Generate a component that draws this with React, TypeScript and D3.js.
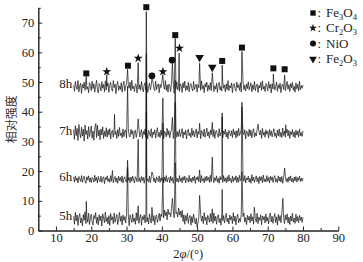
import React, { useEffect, useRef } from "react";
import * as d3 from "d3";

const W = 363,
  H = 262;

// scan grid (2θ, degrees) shared by all samples
const gridStart = 15;
const gridStep = 0.25;

// stacked patterns: label and vertical shift
const sampleLabels = ["5h", "6h", "7h", "8h"];
const sampleOffsets = [3.8, 17.2, 32.6, 48.3];

// background noise (one value per grid step)
const noise5h = [
  1.0, -1.7, 2.3, -0.6, 1.4, -2.1, 0.8, 1.9, -1.3, 0.3, -2.2, 1.6, -0.4, 2.5, -1.5, 0.9, -1.0, 2.0, -1.8, 0.5,
  1.7, -0.9, -2.0, 1.3, 0.2, 2.2, -1.4, 0.7, -1.9, 1.5, -0.5, 1.1, -2.3, 1.8, 0.4, -1.2, 2.4, -0.8, 0.6, -1.6,
  1.2, -2.1, 1.9, -0.3, 0.8, -1.5, 2.1, -1.0, 0.5, 1.6, -1.8, 0.2, 2.3, -0.7, 1.0, -1.9, 1.4, -0.4, 0.9, -1.3,
  2.0, -0.6, 1.1, -2.2, 1.5, 0.3, -1.1, 1.8, -0.8, 0.4, -1.7, 2.2, -0.5, 1.3, -1.4, 0.7, 1.6, -2.0, 0.9, -0.2,
  1.5, -1.2, 2.1, -0.9, 0.6, -1.6, 1.8, 0.1, -1.3, 2.3, -0.7, 1.2, -1.9, 0.8, 1.4, -1.1, 0.3, 2.0, -0.6, 1.7,
  0.9, 2.8, 0.4, 3.1, 1.2, 2.5, -0.2, 3.4, 1.6, 2.2, 0.8, 3.6, 1.1, 2.9, 0.5, 3.3, 1.9, 2.4, 0.7, 3.8,
  1.4, 2.7, 0.6, 3.0, -0.8, 1.5, -1.7, 1.2, -0.5, 2.0, -1.4, 0.6, 1.3, -2.0, 0.9, -1.1, 1.7, -0.3, -1.6, 0.4,
  -2.6, -1.2, 0.8, -1.8, 1.6, -0.7, 1.1, -1.5, 2.2, -0.4, 0.7, -1.9, 1.3, 0.2, -1.0, 1.9, -0.8, 0.5, -1.4, 2.1,
  -0.6, 1.0, -1.7, 0.8, 1.5, -1.1, 0.3, -2.0, 1.8, -0.5, 1.2, -1.3, 0.6, 2.0, -0.9, 0.4, -1.6, 1.4, -0.2, 0.9,
  -1.5, 2.2, -0.7, 1.1, -1.9, 0.6, 1.7, -1.2, 0.2, -0.8, 1.6, -1.4, 0.9, 2.1, -1.0, 0.5, -1.8, 1.3, -0.3, 1.0,
  -1.2, 1.9, -0.6, 0.8, -1.7, 1.4, 0.3, -1.0, 2.0, -1.5, 0.7, -0.4, 1.5, -1.9, 1.1, -0.2, 0.9, -1.3, 1.8, -0.7,
  0.6, -1.6, 1.3, 2.1, -0.9, 1.0, -1.4, 0.4, 1.9, -1.1, 0.8, -2.0, 1.6, -0.5, 1.2, -1.2, 2.3, -0.8, 0.5, -1.5,
  1.4, -0.3, 1.8, -1.3, 0.7, -1.8, 1.1, -0.6, 2.0, -1.0, 0.4, -1.4, 1.7, -0.7, 0.9, -1.2, 1.3, -0.4, 0.8, -1.1,
  0.6,
];
const noise6h = [
  0.8, -0.9, 1.2, -0.4, 0.5, -1.2, 1.0, 0.2, -0.7, 1.3, -1.0, 0.4, 1.1, -0.6, -1.3, 0.9, -0.2, 1.2, -0.8, 0.5,
  -1.1, 0.7, 0.3, -0.9, 1.4, -0.5, 0.6, -1.2, 1.0, -0.3, -0.8, 1.1, -1.0, 0.4, 0.9, -1.4, 0.6, -0.1, 1.2, -0.7,
  0.3, -1.0, 1.3, -0.6, 0.8, -1.1, 0.2, 1.0, -0.9, 0.5, -1.3, 1.1, -0.4, 0.7, -0.8, 1.2, -1.2, 0.4, 0.9, -0.5,
  -1.0, 1.4, -0.3, 0.6, -1.1, 0.8, -0.6, 1.1, -0.2, -1.2, 0.9, 0.3, -0.8, 1.3, -0.7, 0.5, -1.0, 1.0, -0.4, 0.7,
  -1.3, 0.6, 1.2, -0.5, 0.2, -0.9, 1.1, -1.1, 0.7, -0.3, 1.4, -0.8, 0.4, -1.2, 0.9, 0.1, -0.7, 1.2, -1.0, 0.5,
  -0.4, 1.0, -1.2, 0.8, -0.6, 1.3, -0.9, 0.3, 0.7, -1.1, 1.1, -0.5, 0.6, -1.3, 0.9, -0.2, 1.2, -0.8, 0.4, -1.0,
  1.3, -0.6, 0.5, -1.1, 0.9, -0.3, 1.1, -1.2, 0.6, 0.2, -0.9, 1.4, -0.7, 0.4, -1.0, 0.8, -0.4, 1.2, -1.3, 0.7,
  -0.2, 1.0, -0.8, 0.5, -1.1, 1.3, -0.5, 0.3, -1.2, 0.9, -0.6, 1.1, -0.3, 0.7, -1.0, 1.4, -0.8, 0.2, 0.9, -1.1,
  0.6, -0.4, 1.2, -0.9, 0.4, -1.3, 1.0, -0.2, 0.8, -1.0, 1.3, -0.6, 0.5, -1.1, 0.9, -0.7, 1.5, -0.5, 0.3, -1.2,
  1.1, -0.8, 0.6, -0.3, 1.2, -1.1, 0.7, -0.9, 1.4, -0.4, 0.2, -1.0, 1.0, -0.6, 1.3, -1.2, 0.5, -0.2, 1.1, -0.9,
  0.4, -1.3, 1.6, -0.5, 0.8, -1.0, 0.3, 1.2, -0.8, 0.6, -1.4, 1.0, -0.4, 0.9, -1.1, 1.5, -0.7, 0.2, -0.9, 1.3,
  -0.6, 0.7, -1.2, 1.1, -0.3, 0.9, -1.0, 0.5, 1.3, -0.8, 0.2, -1.1, 1.2, -0.5, 0.8, -0.9, 1.0, -1.3, 0.6, -0.2,
  1.1, -0.7, 0.4, -1.0, 0.9, -0.4, 1.2, -0.8, 0.3, -1.1, 0.8, -0.5, 1.0, -0.9, 0.6, -0.3, 1.1, -0.7, 0.5, -0.6,
  0.4,
];
const noise7h = [
  1.4, -1.9, 2.7, -0.6, 1.8, -2.3, 3.1, 0.2, -1.4, 2.2, -0.8, 1.5, -2.5, 2.9, -0.3, 1.1, -1.8, 2.4, -1.0, 0.6,
  2.6, -1.5, 0.9, -2.2, 1.9, 0.3, -1.3, 2.8, -0.7, 1.2, -2.0, 1.6, -0.4, 2.3, -1.6, 0.8, -0.9, 2.0, -1.2, 1.3,
  -0.5, 1.7, -1.8, 0.6, 1.1, -1.2, 1.9, -0.3, 0.7, -1.6, 1.4, -0.9, 2.1, -0.6, 0.2, -1.4, 1.6, -1.0, 0.9, 1.3,
  -1.5, 0.4, 1.8, -0.8, -1.1, 1.5, -0.2, 1.0, -1.7, 0.6, 1.2, -1.3, 0.3, -0.7, 1.9, -1.1, 0.5, 1.4, -1.6, 0.8,
  -0.4, 1.6, -1.2, 0.9, -1.8, 1.1, 0.2, -0.9, 1.7, -1.4, 0.6, -0.3, 1.3, -1.5, 0.7, 2.0, -1.0, 0.4, -1.3, 1.2,
  -0.6, 1.5, -1.7, 0.8, 0.3, -1.1, 1.8, -0.5, 1.0, -1.4, 0.5, 1.3, -0.8, -1.6, 1.1, -0.2, 1.6, -1.2, 0.7, -0.9,
  1.4, -1.0, 0.2, 1.7, -1.5, 0.6, -0.4, 1.2, -1.8, 0.9, 1.5, -0.7, 0.3, -1.3, 1.8, -0.6, 1.0, -1.1, 0.4, 1.6,
  -1.4, 0.8, -0.2, 1.3, -1.7, 1.1, 0.5, -0.9, 1.6, -1.2, 0.2, 1.9, -0.8, 0.6, -1.5, 1.2, -0.3, 0.9, -1.0, 1.4,
  -1.6, 0.7, 1.1, -0.5, -1.2, 1.7, -0.8, 0.4, 1.3, -1.4, 0.9, -0.2, 1.5, -1.1, 0.6, -1.7, 1.2, 0.3, -0.7, 1.0,
  -1.3, 1.6, -0.4, 0.8, -1.5, 1.1, -0.9, 1.8, -0.6, 0.2, 1.4, -1.2, 0.7, -0.3, 1.3, -1.8, 0.9, 0.4, -1.0, 1.5,
  -0.7, 1.2, -1.4, 0.5, 1.7, -1.1, 0.3, -0.8, 1.5, -1.3, 0.9, -0.4, 1.1, -1.6, 1.8, -0.5, 0.6, -1.2, 1.3, -0.2,
  0.8, -1.5, 1.4, -0.6, 1.0, -1.1, 0.4, 1.7, -0.9, 0.2, -1.4, 1.2, -0.7, 1.6, -1.0, 0.5, -1.3, 1.9, -0.6, 0.9,
  -1.2, 0.3, 1.5, -0.8, 1.1, -1.6, 0.7, -0.3, 1.4, -1.0, 0.6, -1.4, 1.2, -0.5, 0.9, -1.1, 1.6, -0.7, 0.4, -0.9,
  1.0,
];
const noise8h = [
  0.6, -1.4, 1.9, 0.2, -0.8, 2.2, -1.6, 0.4, 1.3, -2.1, 0.9, -0.3, 1.7, -1.1, 2.4, -0.7, 0.1, -1.9, 1.5, 0.6,
  -1.2, 2.0, -0.5, 1.1, -1.7, 0.3, 2.3, -0.9, -2.0, 1.2, 0.5, -1.3, 1.8, -0.4, 0.9, -1.6, 2.1, -1.0, 0.2, 1.4,
  -1.8, 0.7, 1.6, -0.6, -1.4, 2.2, -0.2, 1.0, -2.2, 0.8, 1.9, -1.1, 0.4, -0.8, 1.5, -1.7, 0.6, 2.0, -1.3, 0.1,
  1.2, -1.9, 0.9, -0.4, 1.7, -1.2, 2.3, -0.6, 0.3, -1.5, 1.1, 0.5, -2.0, 1.4, -0.7, 0.8, -1.1, 1.9, -0.3, -1.6,
  0.7, 1.5, -1.0, 2.1, -1.8, 0.2, 1.3, -0.9, 0.6, -1.4, 1.8, -0.5, -1.2, 2.0, -0.8, 0.4, 1.1, -1.9, 0.9, -0.2,
  1.6, -1.3, 0.5, -0.7, 2.2, -1.1, 0.8, -1.7, 1.0, 0.3, -1.5, 1.7, -0.4, 0.9, -2.1, 1.3, -0.6, 1.8, -1.0, 0.2,
  -1.4, 1.1, 0.6, -1.8, 1.5, -0.3, 2.0, -1.2, 0.4, -0.9, 1.6, -1.6, 0.7, 1.2, -0.5, -1.3, 1.9, -0.8, 0.3, 1.0,
  -1.7, 0.8, -0.2, 1.4, -1.1, 2.1, -0.6, 0.5, -1.9, 1.2, 0.0, 1.7, -1.4, 0.6, -0.8, 1.5, -1.2, 0.9, 2.0, -1.5,
  0.4, -0.7, 1.3, -1.8, 0.8, 1.6, -1.0, 0.2, -1.3, 1.9, -0.4, 0.7, -1.6, 1.1, -0.9, 2.2, -1.2, 0.5, -0.3, 1.4,
  -1.9, 0.9, 1.2, -0.6, -1.4, 1.7, -0.2, 0.8, -1.1, 1.5, -1.7, 0.3, 2.0, -0.9, 0.6, -1.3, 1.1, -0.5, 1.8, -1.0,
  0.2, 1.4, -1.6, 0.7, -0.8, 1.9, -1.2, 0.4, 1.0, -1.8, 0.6, -0.3, 1.6, -1.1, 2.1, -0.7, 0.3, -1.5, 1.2, 0.5,
  -1.3, 1.8, -0.4, 0.9, -2.0, 1.1, -0.6, 1.5, -1.0, 0.2, 1.7, -1.4, 0.8, -0.5, 1.3, -1.9, 0.6, 1.0, -0.8, 1.6,
  -1.2, 0.4, 1.9, -0.7, 0.8, -1.5, 1.2, -0.2, 1.6, -1.1, 0.3, -1.7, 1.4, -0.6, 0.9, -1.3, 2.0, -0.9, 0.5, -0.4,
  0.7,
];

// diffraction peaks [2θ, intensity above the pattern's baseline]
const peaks5h = [
  [18.6, 6], [30.3, 17.5], [33.3, 4.5], [35.6, 36], [37.2, 4], [40.3, 14], [43.0, 7], [43.8, 19],
  [50.7, 8], [54.3, 3.5], [57.1, 10], [62.7, 16], [66.2, 4], [74.3, 7],
];
const peaks6h = [
  [26.0, 3], [30.3, 6.5], [33.3, 13.5], [35.6, 31], [37.2, 2.5], [40.3, 19], [43.8, 26], [50.7, 3.2],
  [54.3, 7.5], [57.1, 21], [62.7, 26], [74.8, 3.8],
];
const peaks7h = [
  [21.3, 3.4], [26.6, 6.5], [30.3, 16], [33.3, 5], [35.6, 27], [40.3, 12], [43.0, 5.5], [43.8, 18],
  [50.7, 3.5], [54.3, 3.8], [57.1, 7], [62.7, 9], [67.3, 3.2], [75.1, 3],
];
const peaks8h = [
  [18.6, 3.5], [24.4, 4.2], [30.3, 6], [33.3, 8.2], [35.6, 25.4], [37.2, 2.8], [40.3, 4.2], [43.0, 8.2],
  [43.8, 16.4], [44.9, 11.4], [50.7, 8], [54.3, 4.8], [57.1, 7.4], [62.7, 12], [71.6, 4.4], [74.8, 4],
];

// phase markers above the 8h pattern [2θ, intensity, phase]
const phaseMarks = [
  [18.6, 52.9, "Fe3O4"], [24.4, 53.5, "Cr2O3"], [30.4, 55.5, "Fe3O4"], [33.3, 58.0, "Cr2O3"],
  [35.6, 75.2, "Fe3O4"], [37.2, 52.1, "NiO"], [40.3, 53.5, "Cr2O3"], [42.9, 57.4, "NiO"],
  [43.8, 65.8, "Fe3O4"], [45.0, 61.4, "Cr2O3"], [50.7, 58.3, "Fe2O3"], [54.3, 55.0, "Fe2O3"],
  [57.1, 57.1, "Fe3O4"], [62.7, 61.6, "Fe3O4"], [71.6, 54.6, "Fe3O4"], [74.8, 54.3, "Fe3O4"],
];

const phases = ["Fe3O4", "Cr2O3", "NiO", "Fe2O3"];
const phaseLabels = ["Fe_3O_4", "Cr_2O_3", "NiO", "Fe_2O_3"];

const xTicks = [10, 20, 30, 40, 50, 60, 70, 80, 90];
const xMinor = [15, 25, 35, 45, 55, 65, 75, 85];
const yTicks = [0, 10, 20, 30, 40, 50, 60, 70];
const yMinor = [5, 15, 25, 35, 45, 55, 65, 75];

const serif = "'Liberation Serif', 'Times New Roman', serif";

const App = () => {
  const svgRef = useRef(null);

  useEffect(() => {
    const svg = d3.select(svgRef.current);
    svg.selectAll("*").remove();

    const x = d3.scaleLinear().domain([5, 90]).range([38.3, 338.3]);
    const y = d3.scaleLinear().domain([0, 75]).range([230.5, 7.8]);

    // symbol paths
    const symbolFor = (phase, scale = 1) => {
      const s = d3.symbol();
      if (phase === "Fe3O4") return s.type(d3.symbolSquare).size(36 * scale)();
      if (phase === "Cr2O3") return s.type(d3.symbolStar).size(26 * scale)();
      if (phase === "NiO") return s.type(d3.symbolCircle).size(36 * scale)();
      return s.type(d3.symbolTriangle).size(32 * scale)();
    };

    // patterns
    const noises = [noise5h, noise6h, noise7h, noise8h];
    const peaks = [peaks5h, peaks6h, peaks7h, peaks8h];
    const line = d3
      .line()
      .x((d) => x(d[0]))
      .y((d) => y(d[1]));

    const gTraces = svg.append("g");
    noises.forEach((noise, k) => {
      const pk = peaks[k];
      const pts = noise
        .map((v, i) => [gridStart + i * gridStep, v])
        .filter((p) => !pk.some((q) => Math.abs(q[0] - p[0]) < 0.08));
      pk.forEach((q) => pts.push([q[0], q[1]]));
      pts.sort((a, b) => a[0] - b[0]);
      const off = sampleOffsets[k];
      gTraces
        .append("path")
        .attr("d", line(pts.map((p) => [p[0], p[1] + off])))
        .attr("fill", "none")
        .attr("stroke", "#111")
        .attr("stroke-width", 0.7);

      gTraces
        .append("text")
        .attr("x", x(14.6))
        .attr("y", y(off + 0.6))
        .attr("text-anchor", "end")
        .attr("dominant-baseline", "middle")
        .attr("font-family", serif)
        .attr("font-size", 13)
        .attr("fill", "#222")
        .text(sampleLabels[k]);
    });

    // phase markers
    svg
      .append("g")
      .selectAll("path")
      .data(phaseMarks)
      .enter()
      .append("path")
      .attr("d", (d) => symbolFor(d[2]))
      .attr("transform", (d) =>
        `translate(${x(d[0])},${y(d[1])})` + (d[2] === "Fe2O3" ? " rotate(180)" : "")
      )
      .attr("fill", "#111");

    // axes
    const axisStyle = (g) => {
      g.selectAll("path.domain").attr("stroke", "#222").attr("stroke-width", 1);
      g.selectAll(".tick line").attr("stroke", "#222");
      g.selectAll(".tick text")
        .attr("font-family", serif)
        .attr("font-size", 12.5)
        .attr("fill", "#222");
    };

    svg
      .append("g")
      .attr("transform", `translate(0,${y(0)})`)
      .call(d3.axisBottom(x).tickValues(xTicks).tickSizeInner(-4).tickSizeOuter(0).tickPadding(3).tickFormat(d3.format("d")))
      .call(axisStyle);
    svg
      .append("g")
      .attr("transform", `translate(0,${y(0)})`)
      .call(d3.axisBottom(x).tickValues(xMinor).tickSizeInner(-2.5).tickSizeOuter(0).tickFormat(() => ""))
      .call(axisStyle);

    svg
      .append("g")
      .attr("transform", `translate(${x(5)},0)`)
      .call(d3.axisLeft(y).tickValues(yTicks).tickSizeInner(-4).tickSizeOuter(0).tickPadding(4).tickFormat(d3.format("d")))
      .call(axisStyle);
    svg
      .append("g")
      .attr("transform", `translate(${x(5)},0)`)
      .call(d3.axisLeft(y).tickValues(yMinor).tickSizeInner(-2.5).tickSizeOuter(0).tickFormat(() => ""))
      .call(axisStyle);

    // axis titles
    svg
      .append("text")
      .attr("transform", `translate(13,${(y(0) + y(75)) / 2}) rotate(-90)`)
      .attr("text-anchor", "middle")
      .attr("dominant-baseline", "middle")
      .attr("font-family", "'Noto Sans CJK SC', sans-serif")
      .attr("font-size", 12)
      .attr("fill", "#333")
      .text("相对强度");

    const xt = svg
      .append("text")
      .attr("x", (x(5) + x(90)) / 2)
      .attr("y", 258)
      .attr("text-anchor", "middle")
      .attr("font-family", serif)
      .attr("font-size", 12.5)
      .attr("fill", "#222");
    xt.append("tspan").text("2");
    xt.append("tspan").attr("font-style", "italic").text("φ");
    xt.append("tspan").text("/(°)");

    // legend
    const legendRows = [13, 28, 43.5, 59];
    const lg = svg.append("g");
    phases.forEach((ph, i) => {
      const ry = legendRows[i];
      lg.append("path")
        .attr("d", symbolFor(ph, 0.8))
        .attr("transform", `translate(313,${ry})` + (ph === "Fe2O3" ? " rotate(180)" : ""))
        .attr("fill", "#111");
      const t = lg
        .append("text")
        .attr("x", 317.5)
        .attr("y", ry + 4)
        .attr("font-family", serif)
        .attr("font-size", 13)
        .attr("fill", "#222");
      t.append("tspan").text(":");
      const parts = phaseLabels[i].split("_");
      t.append("tspan").attr("x", 326).text(parts[0]);
      parts.slice(1).forEach((p) => {
        t.append("tspan").attr("dy", 3).attr("font-size", 8.5).text(p[0]);
        if (p.length > 1) t.append("tspan").attr("dy", -3).text(p.slice(1));
      });
    });
  }, []);

  return (
    <svg
      ref={svgRef}
      width={W}
      height={H}
      style={{ position: "absolute", left: 0, top: 0, background: "#fff" }}
    />
  );
};

export default App;
